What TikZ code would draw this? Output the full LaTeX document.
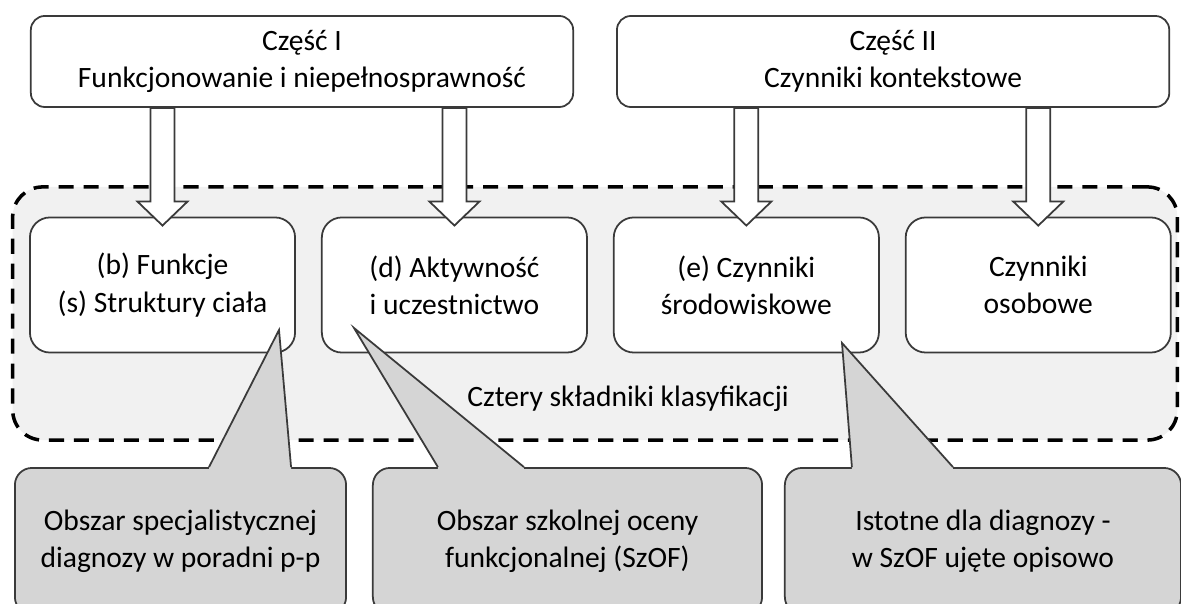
\documentclass[tikz,border=0pt]{standalone}
\usepackage{fontspec}
\setmainfont{Carlito}
\usetikzlibrary{positioning, calc}

\definecolor{boxline}{HTML}{3A3A3A}
\definecolor{bggray}{HTML}{F1F1F1}
\definecolor{notegray}{HTML}{D5D5D5}

% hollow block arrow from a part box down onto a component box
\newcommand\hollowarrow[2]{%
  \path (#1.south -| #2.north) coordinate (ha)
        ([yshift=-0.09cm]#2.north) coordinate (hb);
  \filldraw[blockarrow] ($(ha)+(-12,0)$) -- ($(hb)+(-12,-24)$) -- ($(hb)+(-25,-24)$) -- (hb)
    -- ($(hb)+(25,-24)$) -- ($(hb)+(12,-24)$) -- ($(ha)+(12,0)$) -- cycle;}

% wedge of a callout: node, left and right end of its base, tip
\newcommand\notepointer[4]{%
  \fill[notegray] ([xshift=#2,yshift=-1pt]#1.north) -- ([xshift=#2]#1.north) -- (#4)
    -- ([xshift=#3]#1.north) -- ([xshift=#3,yshift=-1pt]#1.north) -- cycle;
  \draw[noteline] ([xshift=#2]#1.north) -- (#4) -- ([xshift=#3]#1.north);}

\begin{document}
\begin{tikzpicture}
  [x=0.01cm, y=-0.01cm, node distance=0.25cm,
   every node/.style={font=\fontsize{8.4pt}{10.6pt}\selectfont, align=center},
   part/.style={draw=boxline, line width=0.5pt, fill=white, rounded corners=0.14cm, minimum height=0.91cm, inner sep=0pt},
   comp/.style={draw=boxline, line width=0.5pt, fill=white, rounded corners=0.2cm, minimum width=2.65cm, minimum height=1.35cm},
   note/.style={draw=boxline, line width=0.5pt, fill=notegray, rounded corners=0.17cm, minimum height=1.46cm, inner sep=0pt},
   noteline/.style={draw=boxline, line width=0.5pt},
   blockarrow/.style={draw=boxline, line width=0.5pt, fill=white},
   group/.style={draw=black, line width=1pt, dash pattern=on 4.3pt off 2.8pt, fill=bggray, rounded corners=0.3cm, minimum width=11.64cm, minimum height=2.53cm}]

  \useasboundingbox (0,0) rectangle (1181,604);

  % the four components
  \node[group] (grp) at (595,313.5) {};
  \node (grp_t) at (628,399) {Cztery składniki klasyfikacji};

  \node[part, minimum width=5.42cm] (c_1) at (302,61.5) {Część I\\Funkcjonowanie i niepełnosprawność};
  \node[part, minimum width=5.52cm] (c_2) [right=0.42cm of c_1] {Część II\\Czynniki kontekstowe};

  \node[comp] (k_1) at (162.5,285) {(b) Funkcje\\(s) Struktury ciała};
  \node[comp] (k_2) [right=of k_1] {(d) Aktywność\\i uczestnictwo};
  \node[comp] (k_3) [right=of k_2] {(e) Czynniki\\środowiskowe};
  \node[comp] (k_4) [right=of k_3] {Czynniki\\osobowe};

  \hollowarrow{c_1}{k_1}
  \hollowarrow{c_1}{k_2}
  \hollowarrow{c_2}{k_3}
  \hollowarrow{c_2}{k_4}

  % callouts
  \coordinate (t_1) at (279,330);
  \coordinate (t_2) at (354,328);
  \coordinate (t_3) at (842,343);

  \node[note, minimum width=3.31cm] (o_1) at (180.5,541) {Obszar specjalistycznej\\diagnozy w poradni p-p};
  \notepointer{o_1}{0.285cm}{1.105cm}{t_1}
  \node[note, minimum width=3.89cm] (o_2) [right=of o_1] {Obszar szkolnej oceny\\funkcjonalnej (SzOF)};
  \notepointer{o_2}{-1.295cm}{-0.435cm}{t_2}
  \node[note, minimum width=3.96cm] (o_3) [right=0.21cm of o_2] {Istotne dla diagnozy -\\w SzOF ujęte opisowo};
  \notepointer{o_3}{-1.31cm}{-0.30cm}{t_3}
\end{tikzpicture}
\end{document}
